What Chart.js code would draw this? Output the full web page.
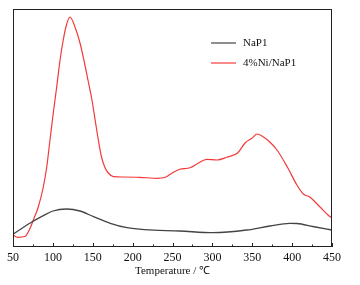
<!DOCTYPE html>
<html>
<head>
<meta charset="utf-8">
<script src="https://cdn.jsdelivr.net/npm/chart.js@4"></script>
<style>
  html, body { margin: 0; padding: 0; background: #fff; }
  #wrap { width: 360px; height: 285px; }
</style>
</head>
<body>
<div id="wrap"><canvas id="c" width="360" height="285"></canvas></div>
<script>
// Temperature (°C) and signal (arbitrary units).
const napTemps = [50, 71, 88, 100, 117, 134, 151, 172, 193, 215, 259, 301, 343, 372, 397, 406, 426, 450];
const napSignal = [12.7, 23.7, 31.3, 36, 38, 36, 30.3, 23.7, 19.3, 17.3, 16, 14.3, 17, 21, 23.7, 23.5, 20.5, 17];

const niTemps = [50, 56, 65, 71, 75.5, 81.7, 88, 92.3, 96.4, 100.5, 104.8, 109, 113, 117, 121.5, 127.7, 134, 139.4, 144, 149, 153, 157, 161, 165, 169.5, 176, 188, 209, 231, 241, 249, 259, 272, 282, 293, 306, 318, 332, 341, 350, 356, 364, 372, 381, 394, 406, 414, 422, 435, 445, 450];
const niSignal = [12, 9.7, 10.5, 18, 27, 40, 60, 80, 107, 134, 160, 187, 207, 222, 230, 220, 204, 185, 167, 147, 127, 107, 90, 80, 74, 70.3, 70, 69.7, 68.7, 69.7, 73.7, 77.7, 79.3, 83.7, 87.7, 87, 89.7, 94.3, 104, 109, 113, 110, 105, 97, 80, 62, 53, 50, 40, 32, 29];

const xTicks = [50, 100, 150, 200, 250, 300, 350, 400, 450];

const toPoints = (xs, ys) => xs.map((x, i) => ({ x, y: ys[i] }));

// frame around the plot plus inward ticks every 25 degrees
const framePlugin = {
  id: 'frame',
  afterDraw(chart) {
    const { ctx, chartArea: a, scales } = chart;
    ctx.save();
    ctx.strokeStyle = '#222';
    ctx.lineWidth = 1;
    ctx.strokeRect(a.left + 0.5, a.top + 0.5, a.right - a.left - 1, a.bottom - a.top - 1);
    for (let v = 50; v <= 450; v += 25) {
      const px = Math.round(scales.x.getPixelForValue(v)) + 0.5;
      const len = v % 50 === 0 ? 4 : 2.5;
      ctx.beginPath();
      ctx.moveTo(px, a.bottom);
      ctx.lineTo(px, a.bottom - len);
      ctx.stroke();
    }
    ctx.restore();
  },
};

// legend drawn inside the plot, top right
const legendPlugin = {
  id: 'insideLegend',
  afterDraw(chart) {
    const { ctx } = chart;
    ctx.save();
    ctx.font = '11px "Liberation Serif", serif';
    ctx.textBaseline = 'middle';
    chart.data.datasets.forEach((ds, i) => {
      const y = 43 + i * 20;
      ctx.strokeStyle = ds.borderColor;
      ctx.lineWidth = 1.2;
      ctx.beginPath();
      ctx.moveTo(211, y);
      ctx.lineTo(236, y);
      ctx.stroke();
      ctx.fillStyle = '#111';
      ctx.fillText(ds.label, 243, y);
    });
    ctx.restore();
  },
};

new Chart(document.getElementById('c'), {
  type: 'line',
  data: {
    datasets: [
      {
        label: 'NaP1',
        data: toPoints(napTemps, napSignal),
        borderColor: '#444',
        borderWidth: 1.3,
        pointRadius: 0,
        tension: 0.4,
        cubicInterpolationMode: 'monotone',
      },
      {
        label: '4%Ni/NaP1',
        data: toPoints(niTemps, niSignal),
        borderColor: '#f23a3a',
        borderWidth: 1.2,
        pointRadius: 0,
        tension: 0.4,
        cubicInterpolationMode: 'monotone',
      },
    ],
  },
  options: {
    responsive: false,
    animation: false,
    layout: { padding: { left: 13, right: 28, top: 9, bottom: 0 } },
    plugins: { legend: { display: false }, tooltip: { enabled: false } },
    scales: {
      x: {
        type: 'linear',
        min: 50,
        max: 450,
        afterBuildTicks: (scale) => { scale.ticks = xTicks.map((v) => ({ value: v })); },
        afterFit: (scale) => { scale.height = 38; },
        grid: { display: false, drawTicks: false },
        border: { display: false },
        ticks: {
          color: '#111',
          padding: 4,
          maxRotation: 0,
          font: { family: '"Liberation Serif", serif', size: 12 },
        },
        title: {
          display: true,
          text: 'Temperature / ℃',
          color: '#111',
          padding: { top: 0, bottom: 7 },
          font: { family: '"Liberation Serif", serif', size: 11 },
        },
      },
      y: {
        display: false,
        min: 0,
        max: 238,
      },
    },
  },
  plugins: [framePlugin, legendPlugin],
});
</script>
</body>
</html>
